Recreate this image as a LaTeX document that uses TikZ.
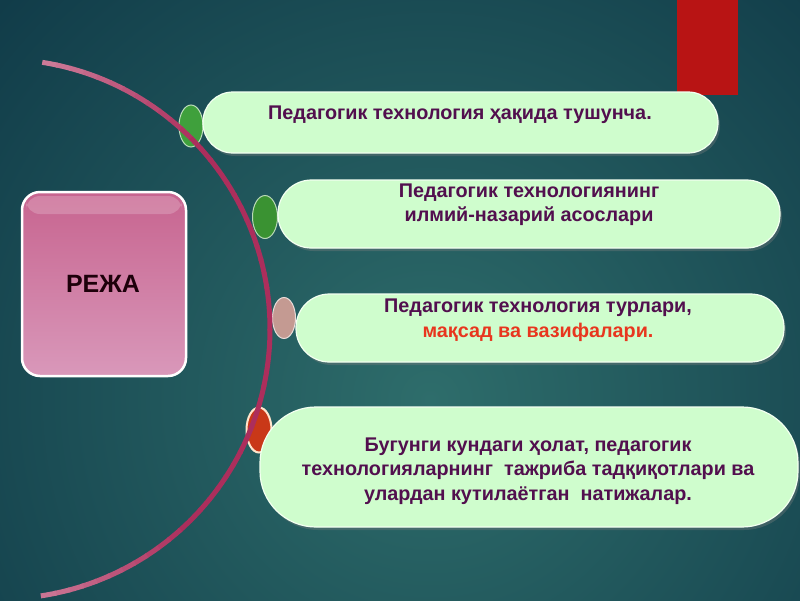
\documentclass[tikz,border=0pt]{standalone}
\usepackage{fontspec}
\setmainfont{Liberation Sans}
\usetikzlibrary{shapes.geometric,shadows}
\definecolor{bgin}{HTML}{2E6D6B}
\definecolor{bgout}{HTML}{0F3947}
\definecolor{pillfill}{HTML}{CFFDCD}
\definecolor{pilledge}{HTML}{F2FFF0}
\definecolor{txt}{HTML}{520F4E}
\definecolor{redtxt}{HTML}{E8361E}
\definecolor{arccol}{HTML}{AC2E5C}
\definecolor{arclight}{HTML}{CC7A98}
\definecolor{redbar}{HTML}{B81414}
\definecolor{greenA}{HTML}{3FA03C}
\definecolor{greenB}{HTML}{3A9232}
\definecolor{beige}{HTML}{C49A92}
\definecolor{orangered}{HTML}{C93818}
\definecolor{pinktop}{HTML}{C7648F}
\definecolor{pinkbot}{HTML}{D998BA}
\begin{document}
\begin{tikzpicture}[x=1pt,y=-1pt,
  pill/.style={draw=pilledge, line width=1.2pt, fill=pillfill, rounded corners=#1, inner sep=0pt,
    drop shadow={shadow xshift=2pt, shadow yshift=-3pt, opacity=0.35}},
  bullet/.style={ellipse, fill=#1, draw=white!65!#1, line width=1pt, inner sep=0pt},
  itemtext/.style={text=txt, align=center, font={\fontsize{19.8}{24.5}\selectfont\bfseries}},
  planbox/.style={draw=white, line width=2.5pt, rounded corners=18pt, top color=pinktop, bottom color=pinkbot, inner sep=0pt}
]
\useasboundingbox (0,0) rectangle (800,600);
% background
\begin{scope}
  \clip (0,0) rectangle (800,600);
  \shade[inner color=bgin, outer color=bgout] (430,400) circle (620);
\end{scope}
% red bar
\fill[redbar] (677,0) rectangle (738,95);
% bullets
\node[bullet=greenA, minimum width=24pt, minimum height=42pt] (d1) at (191,126) {};
\node[bullet=greenB, minimum width=25pt, minimum height=43pt] (d2) at (265,217) {};
\node[bullet=beige, minimum width=23pt, minimum height=41pt] (d3) at (284,318) {};
\node[ellipse, fill=orangered, draw=white!80!orange, line width=2pt, inner sep=0pt, minimum width=25pt, minimum height=45pt] (d4) at (259,430) {};
% arc
\coordinate (c) at (0,329);
\foreach \a in {81,78,...,-78} {
  \pgfmathsetmacro\m{max(0,min(100,(abs(\a)-45)*2.8))}
  \draw[line width=5pt, color=arclight!\m!arccol] (c) ++(\a:270pt) arc[start angle=\a, end angle=\a-3.3, radius=270pt];
}
% plan box
\node[planbox, minimum width=164pt, minimum height=184pt] (plan) at (104,284) {};
\fill[white, opacity=0.2, rounded corners=14pt] (26,196) rectangle (182,214);
\node[text=black!85!purple, font={\fontsize{25}{29}\selectfont\bfseries}] (plant) at (103,284) {РЕЖА};
% pills
\node[pill=30pt, minimum width=515pt, minimum height=61pt] (b1) at (460.5,122.5) {};
\node[pill=33.5pt, minimum width=502pt, minimum height=68pt] (b2) at (529,214) {};
\node[pill=33.5pt, minimum width=488pt, minimum height=68pt] (b3) at (540,328) {};
\node[pill=56pt, minimum width=538pt, minimum height=120pt] (b4) at (529,467) {};
% texts
\node[itemtext] (t1) at (460,115) {Педагогик технология ҳақида тушунча.};
\node[itemtext] (t2) at (529,204.5) {Педагогик технологиянинг\\ илмий-назарий асослари};
\node[itemtext] (t3) at (538,320) {Педагогик технология турлари,\\ \textcolor{redtxt}{мақсад ва вазифалари.}};
\node[itemtext] (t4) at (528,471) {Бугунги кундаги ҳолат, педагогик\\технологияларнинг\ \ тажриба тадқиқотлари ва\\улардан кутилаётган\ \ натижалар.};
\end{tikzpicture}
\end{document}
